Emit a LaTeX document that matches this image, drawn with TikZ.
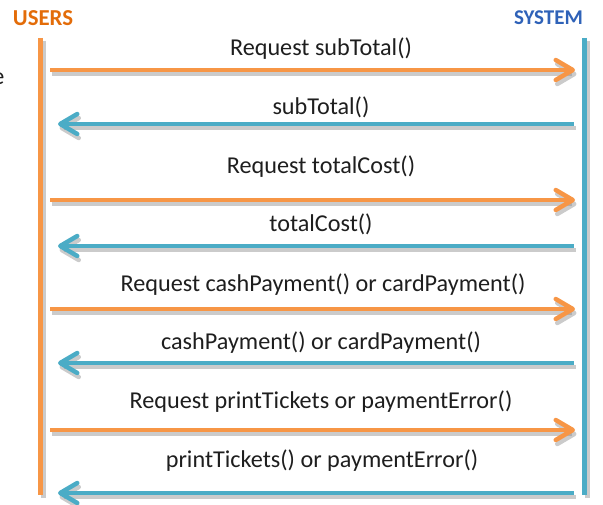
\documentclass[tikz,border=0pt]{standalone}
\usepackage{fontspec}
\setmainfont{Carlito}
\usetikzlibrary{arrows.meta}
\definecolor{uorange}{HTML}{F79646}
\definecolor{sblue}{HTML}{4BACC6}
\definecolor{utext}{HTML}{E36C09}
\definecolor{stext}{HTML}{2F62B8}
\definecolor{txt}{HTML}{1E1E1E}
\definecolor{shade}{HTML}{8C8C8C}
\tikzset{
  title/.style={font=\fontsize{21}{24}\selectfont\bfseries, inner sep=0pt},
  lbl/.style={font=\fontsize{24.2}{28}\selectfont, text=txt, inner sep=0pt},
  life/.style={line width=5pt},
  msg/.style={line width=4.5pt, -{Straight Barb[length=17pt,width=20pt,line cap=round,line join=round]}},
  shadowline/.style={line width=4.5pt, draw=shade, opacity=0.45},
  shadowmsg/.style={shadowline, -{Straight Barb[length=17pt,width=20pt,line cap=round,line join=round]}}
}
\begin{document}
\begin{tikzpicture}[x=1pt,y=-1pt]
\useasboundingbox (0,0) rectangle (603,505);
% titles
\node[title, text=utext, font=\fontsize{22.8}{26}\selectfont\bfseries] (users) at (43,18) {USERS};
\node[title, text=stext] (system) at (548.5,18) {SYSTEM};
% stray cropped letter at left edge
\node[lbl, anchor=base east] (stray) at (4.5,84.5) {e};
% lifelines
\coordinate (ut) at (40,38);
\coordinate (ub) at (40,495);
\coordinate (st) at (584.5,38);
\coordinate (sb) at (584.5,495);
\draw[shadowline, line width=5pt] ([shift={(3,3)}]ut) -- ([shift={(3,3)}]ub);
\draw[shadowline, line width=5pt] ([shift={(3,3)}]st) -- ([shift={(3,3)}]sb);
\draw[life, draw=uorange] (ut) -- (ub);
\draw[life, draw=sblue] (st) -- (sb);
% message anchor points
\foreach \i/\y in {1/70,2/124,3/200,4/246,5/309,6/363,7/430,8/493}{
  \coordinate (u\i) at (40,\y);
  \coordinate (s\i) at (584.5,\y);
}
% user -> system (orange)
\foreach \i in {1,3,5,7}{
  \draw[shadowmsg, shorten <=10pt, shorten >=9.5pt] ([shift={(1.5,4)}]u\i) -- ([shift={(1.5,4)}]s\i);
  \draw[msg, draw=uorange, shorten <=10pt, shorten >=9.5pt] (u\i) -- (s\i);
}
% system -> user (blue)
\foreach \i in {2,4,6,8}{
  \draw[shadowmsg, shorten <=10.5pt, shorten >=18pt] ([shift={(1.5,4)}]s\i) -- ([shift={(1.5,4)}]u\i);
  \draw[msg, draw=sblue, shorten <=10.5pt, shorten >=18pt] (s\i) -- (u\i);
}
% labels
\node[lbl] (l1) at (321,49) {Request subTotal()};
\node[lbl] (l2) at (321,107) {subTotal()};
\node[lbl] (l3) at (321,167) {Request totalCost()};
\node[lbl] (l4) at (321,224) {totalCost()};
\node[lbl] (l5) at (323,285) {Request cashPayment() or cardPayment()};
\node[lbl] (l6) at (321,343) {cashPayment() or cardPayment()};
\node[lbl] (l7) at (321,402) {Request printTickets or paymentError()};
\node[lbl] (l8) at (322,461) {printTickets() or paymentError()};
\end{tikzpicture}
\end{document}
